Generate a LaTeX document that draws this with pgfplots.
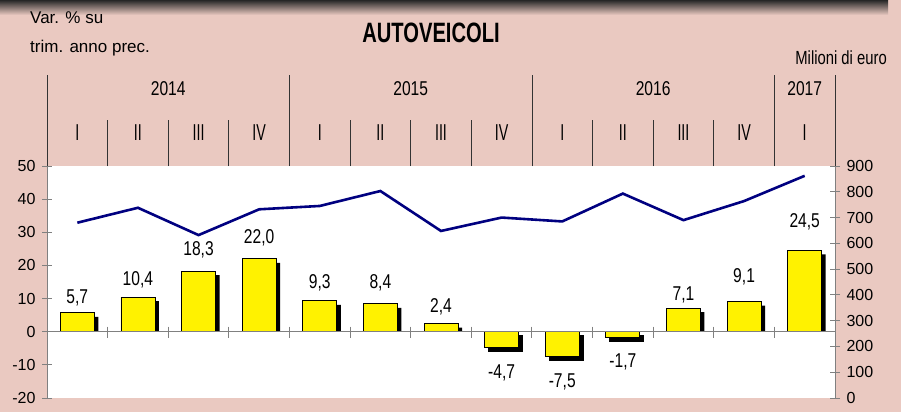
\documentclass[border=0pt]{standalone}
\usepackage{pgfplots}
\pgfplotsset{compat=1.18}
\usepackage{fontspec}
\setmainfont{Liberation Sans}
\newfontfamily\narrow{Liberation Sans}[FakeStretch=0.78]
\newfontfamily\romfont{Liberation Sans}[FakeStretch=0.62]
\newfontfamily\titlefont{Liberation Sans}[FakeStretch=0.72]
\definecolor{bgpink}{HTML}{EAC9C1}
\definecolor{navy}{HTML}{000080}
\definecolor{axgray}{HTML}{808080}

\begin{document}
\begin{tikzpicture}[x=1pt,y=1pt]
\fill[bgpink] (0,0) rectangle (901,412);
\shade[top color=black!85, bottom color=bgpink] (0,397) rectangle (888,412);

% bars: Var. % su trim. anno prec.
\begin{axis}[
    at={(47pt,14pt)}, anchor=south west,
    scale only axis, width=788pt, height=232pt,
    xmin=-0.5, xmax=12.5, ymin=-20, ymax=50,
    axis x line=none, axis y line*=left,
    axis background/.style={fill=white},
    axis line style={axgray, line width=1pt},
    ytick={-20,-10,...,50},
    major tick length=10pt, tick align=center,
    tick style={axgray, line width=1pt},
    yticklabel style={font=\fontsize{16}{16}\selectfont, xshift=-3pt},
    /pgf/number format/assume math mode=true,
    clip=false,
]
    % shadows of the positive bars
    \addplot[ybar, bar width=34pt, bar shift=4pt, fill=black, draw=none]
        coordinates {
        (0,4.5) (1,9.2) (2,17.1) (3,20.8) (4,8.1) (5,7.2) (6,1.2)
        (10,5.9) (11,7.9) (12,23.3)
    };
    \addplot[ybar, bar width=34pt, bar shift=0pt, fill=yellow, draw=black, line width=0.8pt]
        coordinates {
        (0,5.7) (1,10.4) (2,18.3) (3,22.0) (4,9.3) (5,8.4) (6,2.4)
        (10,7.1) (11,9.1) (12,24.5)
    };
    \addplot[ybar, bar width=34pt, bar shift=0pt, fill=yellow, draw=black, line width=0.8pt,
        preaction={fill=black, draw=black, transform canvas={xshift=4pt,yshift=-4pt}}]
        coordinates {
        (7,-4.7) (8,-7.5) (9,-1.7)
    };
    % data labels
    \addplot[draw=none, mark=none, nodes near coords, point meta=explicit symbolic,
        nodes near coords align={center},
        every node near coord/.append style={font=\narrow\fontsize{20}{20}\selectfont, inner sep=0pt}]
        coordinates {
        (0,10.3)[5,7] (1,15.7)[10,4] (2,24.7)[18,3] (3,28.4)[22,0] (4,14.8)[9,3]
        (5,14.8)[8,4] (6,7.6)[2,4] (7,-12.4)[-4,7] (8,-15.0)[-7,5] (9,-9.1)[-1,7]
        (10,11.0)[7,1] (11,16.5)[9,1] (12,33.2)[24,5]
    };
    % zero line with category ticks
    \draw[axgray, line width=1.2pt] (axis cs:-0.5,0) -- (axis cs:12.5,0);
    \pgfplotsinvokeforeach{0.5,1.5,...,11.5}{
        \draw[axgray, line width=1pt] ([yshift=5pt]axis cs:#1,0) -- ([yshift=-6pt]axis cs:#1,0);
    }
    % header: years and quarters
    \draw[black!80, line width=0.8pt] (axis cs:-0.5,50) -- (axis cs:-0.5,77.5);
    \draw[black!80, line width=0.8pt] (axis cs:3.5,50) -- (axis cs:3.5,77.5);
    \draw[black!80, line width=0.8pt] (axis cs:7.5,50) -- (axis cs:7.5,77.5);
    \draw[black!80, line width=0.8pt] (axis cs:11.5,50) -- (axis cs:11.5,77.5);
    \draw[black!80, line width=0.8pt] (axis cs:12.5,50) -- (axis cs:12.5,77.5);
    \pgfplotsinvokeforeach{0.5,1.5,2.5,4.5,5.5,6.5,8.5,9.5,10.5}{
        \draw[black!80, line width=0.8pt] (axis cs:#1,50) -- (axis cs:#1,63.9);
    }
    \begin{scope}[every node/.style={font=\narrow\fontsize{20}{20}\selectfont}]
        \node at (axis cs:1.5,73.5) {2014};
        \node at (axis cs:5.5,73.5) {2015};
        \node at (axis cs:9.5,73.5) {2016};
        \node at (axis cs:12,73.5) {2017};
    \end{scope}
    \begin{scope}[every node/.style={font=\romfont\fontsize{23}{23}\selectfont}]
        \node at (axis cs:0,60) {I};
        \node at (axis cs:1,60) {II};
        \node at (axis cs:2,60) {III};
        \node at (axis cs:3,60) {IV};
        \node at (axis cs:4,60) {I};
        \node at (axis cs:5,60) {II};
        \node at (axis cs:6,60) {III};
        \node at (axis cs:7,60) {IV};
        \node at (axis cs:8,60) {I};
        \node at (axis cs:9,60) {II};
        \node at (axis cs:10,60) {III};
        \node at (axis cs:11,60) {IV};
        \node at (axis cs:12,60) {I};
    \end{scope}
\end{axis}

% line: Milioni di euro
\begin{axis}[
    at={(47pt,14pt)}, anchor=south west,
    scale only axis, width=788pt, height=232pt,
    xmin=-0.5, xmax=12.5, ymin=0, ymax=900,
    axis x line=none, axis y line*=right,
    axis line style={axgray, line width=1pt},
    ytick={0,100,...,900},
    major tick length=10pt, tick align=center,
    tick style={axgray, line width=1pt},
    yticklabel style={font=\fontsize{16}{16}\selectfont, xshift=3pt},
    /pgf/number format/assume math mode=true,
]
    \addplot[navy, line width=2.6pt, mark=none] coordinates {
        (0,680) (1,738) (2,632) (3,732) (4,745) (5,803) (6,648)
        (7,700) (8,685) (9,793) (10,690) (11,764) (12,862)
    };
\end{axis}

\node[font=\titlefont\bfseries\fontsize{28}{28}\selectfont] at (431,379) {AUTOVEICOLI};
\node[anchor=west, inner sep=0pt, font=\fontsize{17}{17}\selectfont] at (30,394) {Var. \% su};
\node[anchor=west, inner sep=0pt, font=\fontsize{17}{17}\selectfont] at (30,364) {trim. anno prec.};
\node[anchor=east, inner sep=0pt, font=\narrow\fontsize{19}{19}\selectfont] at (887,354) {Milioni di euro};

\pgfresetboundingbox
\path (0,0) rectangle (901,412);
\end{tikzpicture}
\end{document}
